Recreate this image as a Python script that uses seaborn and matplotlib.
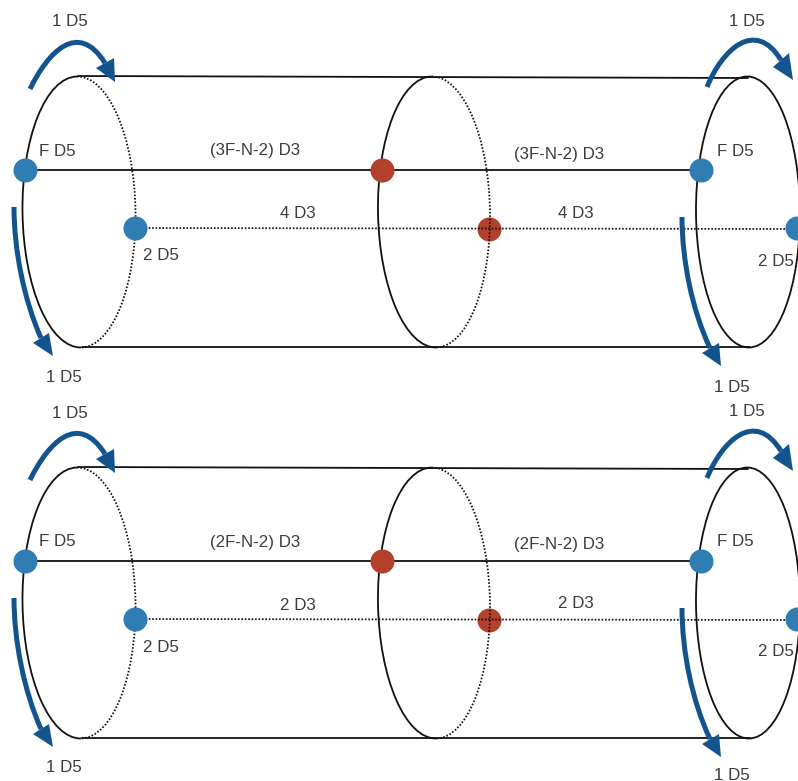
import pandas as pd
import seaborn as sns
import matplotlib.pyplot as plt
from matplotlib.patches import Arc, PathPatch, Polygon
from matplotlib.path import Path

# all positions are pixels of the picture, measured in the top panel
panel_shift = [0, 391]

# cylinder outlines
ring_x = [79, 434, 748]
ring_width = [113, 112, 104]
ring_tilt = [-0.85, -1, -0.4]
ring_y = 212
ring_height = 271
ring_back_dotted = [True, True, False]

top_line_x = [78, 748]
top_line_y = [76, 78]
bottom_line_x = [82, 750]
bottom_line_y = [347, 347]
solid_line_x = [25, 701]
solid_line_y = [170, 170]
dotted_line_x = [135, 798]
dotted_line_y = [228, 229]

# nodes
blue_x = [25, 135, 701, 797]
blue_y = [170, 228, 170, 228]
red_top_x = [382]
red_top_y = [170]
red_low_x = [489]
red_low_y = [229]

# curved arrows: tail start, two control points, tail end, then the head corners and tip
tail_start = [(30, 89), (14, 207), (707, 87), (682, 217)]
tail_ctrl1 = [(48, 52), (14, 250), (722, 50), (682, 260)]
tail_ctrl2 = [(78, 20), (24, 300), (755, 18), (692, 310)]
tail_end = [(105, 63), (41, 338), (781, 60), (710, 348)]
head_a = [(96, 68), (33, 343), (773, 67), (702, 353)]
head_b = [(114, 58), (49, 333), (789, 53), (719, 343)]
head_tip = [(115, 82), (53, 356), (793, 80), (721, 366)]

# labels of each panel
label_text = [
    ["1 D5", "1 D5", "F D5", "F D5", "(3F-N-2) D3", "(3F-N-2) D3",
     "4 D3", "4 D3", "2 D5", "2 D5", "1 D5", "1 D5"],
    ["1 D5", "1 D5", "F D5", "F D5", "(2F-N-2) D3", "(2F-N-2) D3",
     "2 D3", "2 D3", "2 D5", "2 D5", "1 D5", "1 D5"],
]
label_x = [
    [70, 747, 57, 735, 255, 559, 298, 576, 161, 776, 64, 732],
    [70, 747, 57, 735, 255, 559, 298, 576, 161, 776, 64, 732],
]
label_y = [
    [22, 21, 151, 151, 151, 154, 214, 213, 256, 261, 377, 387],
    [413, 412, 542, 542, 542, 545, 605, 604, 647, 652, 768, 775],
]

BLUE = "#2f7db3"
RED = "#b2402b"
ARROW = "#14548e"
INK = "#111111"
DOT = (0, (0.9, 1.0))


def draw_line(ax, xs, ys, shift, dotted=False, zorder=1):
    df = pd.DataFrame({"x": xs, "y": [v + shift for v in ys]})
    sns.lineplot(data=df, x="x", y="y", ax=ax, color=INK, sort=False, estimator=None,
                 linewidth=1.3, linestyle=DOT if dotted else "-", zorder=zorder)


def draw_nodes(ax, xs, ys, shift, color, zorder):
    df = pd.DataFrame({"x": xs, "y": [v + shift for v in ys]})
    sns.scatterplot(data=df, x="x", y="y", ax=ax, color=color, s=300,
                    linewidth=0, zorder=zorder)


sns.set_theme(style="white")
plt.rcParams["font.family"] = ["Liberation Sans", "DejaVu Sans"]

fig = plt.figure(figsize=(7.98, 7.81), dpi=100)
ax = fig.add_axes([0, 0, 1, 1])

for p, shift in enumerate(panel_shift):
    draw_line(ax, top_line_x, top_line_y, shift)
    draw_line(ax, bottom_line_x, bottom_line_y, shift)
    draw_line(ax, solid_line_x, solid_line_y, shift)
    draw_line(ax, dotted_line_x, dotted_line_y, shift, dotted=True, zorder=2.5)

    for cx, w, tilt, back in zip(ring_x, ring_width, ring_tilt, ring_back_dotted):
        center = (cx, ring_y + shift)
        ax.add_patch(Arc(center, w, ring_height, angle=tilt, theta1=90, theta2=270,
                         color=INK, lw=1.3, zorder=1))
        ax.add_patch(Arc(center, w, ring_height, angle=tilt, theta1=-90, theta2=90,
                         color=INK, lw=1.3, zorder=2.5,
                         linestyle=DOT if back else "-"))

    draw_nodes(ax, blue_x, blue_y, shift, BLUE, 3)
    draw_nodes(ax, red_top_x, red_top_y, shift, RED, 3)
    draw_nodes(ax, red_low_x, red_low_y, shift, RED, 2)

    for i in range(len(tail_start)):
        verts = [(pt[0], pt[1] + shift) for pt in
                 (tail_start[i], tail_ctrl1[i], tail_ctrl2[i], tail_end[i])]
        curve = Path(verts, [Path.MOVETO, Path.CURVE4, Path.CURVE4, Path.CURVE4])
        ax.add_patch(PathPatch(curve, fill=False, edgecolor=ARROW, lw=3.6,
                               capstyle="butt", zorder=4))
        corners = [(pt[0], pt[1] + shift) for pt in (head_a[i], head_b[i], head_tip[i])]
        ax.add_patch(Polygon(corners, closed=True, facecolor=ARROW, edgecolor="none", zorder=4))

    for t, x, y in zip(label_text[p], label_x[p], label_y[p]):
        ax.text(x, y, t, ha="center", va="center", fontsize=12.2, color="#3c3c3c", zorder=5)

ax.set_xlim(0, 798)
ax.set_ylim(781, 0)
ax.axis("off")

plt.savefig("out.png", dpi=100)
plt.close()
